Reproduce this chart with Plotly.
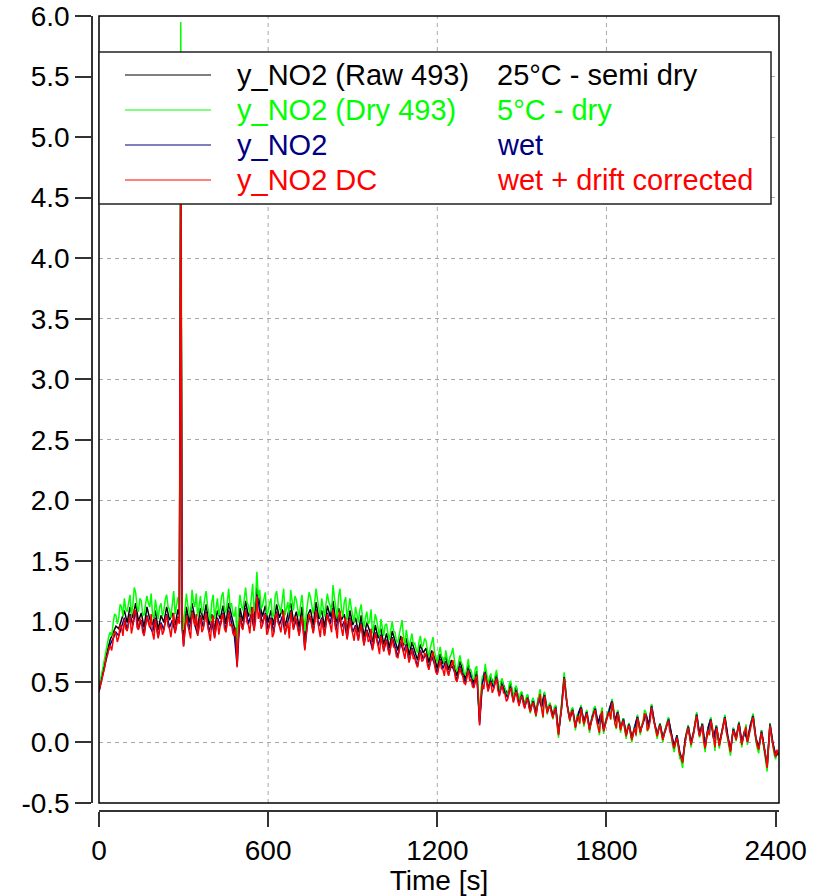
import plotly.graph_objects as go

# ---------------- data ----------------
time_5 = list(range(0, 2415, 5))     # red / green sampling
# black / blue sampling (10 s, with the two samples around the spike)
time_kb = list(range(0, 290, 10)) + [285, 290, 295] + list(range(300, 2420, 10))

y_red = [
    0.42, 0.47, 0.52, 0.59, 0.62, 0.70, 0.72, 0.78, 0.80, 0.76, 0.85, 0.92, 0.90, 0.83, 0.87, 0.97, 0.95, 0.88, 1.02, 0.94,
    0.92, 0.99, 1.05, 0.90, 0.96, 1.10, 1.08, 0.95, 0.93, 1.02, 1.00, 0.91, 0.88, 0.97, 1.04, 0.99, 0.95, 1.06, 0.90, 0.85,
    1.02, 0.93, 0.86, 0.95, 0.98, 0.89, 0.92, 1.01, 1.05, 0.96, 0.94, 0.87, 1.00, 1.07, 0.90, 0.97, 1.03, 0.98, 4.95, 0.96,
    0.79, 0.93, 1.05, 0.97, 0.92, 0.86, 1.08, 1.00, 0.96, 1.06, 0.88, 0.95, 1.04, 0.91, 0.94, 1.02, 1.07, 0.97, 0.90, 0.84,
    0.99, 1.05, 0.86, 0.93, 1.02, 0.89, 0.95, 1.04, 1.06, 0.94, 0.91, 0.99, 1.08, 0.96, 0.98, 0.90, 0.88, 0.95, 0.62, 0.92,
    1.04, 0.96, 0.93, 1.01, 1.10, 0.99, 0.97, 0.90, 1.05, 1.12, 0.92, 1.00, 1.21, 1.02, 1.08, 0.94, 0.97, 1.03, 1.06, 0.89,
    0.92, 0.98, 1.02, 0.87, 0.90, 1.04, 1.07, 0.99, 0.96, 0.91, 1.03, 1.09, 0.89, 0.95, 0.99, 0.86, 1.08, 1.00, 0.93, 1.04,
    1.01, 0.94, 0.88, 0.97, 1.05, 0.92, 0.76, 0.90, 0.98, 1.06, 1.03, 0.95, 0.90, 0.99, 1.09, 1.01, 0.95, 0.87, 1.02, 0.96,
    0.88, 0.97, 1.06, 1.00, 0.97, 0.91, 1.10, 1.03, 0.92, 0.86, 1.04, 1.09, 0.94, 0.88, 0.99, 1.03, 0.85, 0.93, 1.02, 0.95,
    0.90, 0.84, 0.96, 0.89, 0.84, 0.93, 0.98, 0.87, 0.80, 0.88, 0.92, 0.83, 0.85, 0.94, 0.76, 0.82, 0.90, 0.86, 0.79, 0.73,
    0.88, 0.81, 0.75, 0.83, 0.84, 0.77, 0.72, 0.80, 0.86, 0.79, 0.78, 0.71, 0.70, 0.76, 0.82, 0.87, 0.74, 0.69, 0.80, 0.73,
    0.66, 0.72, 0.77, 0.69, 0.70, 0.65, 0.62, 0.71, 0.75, 0.67, 0.68, 0.74, 0.72, 0.64, 0.60, 0.66, 0.70, 0.75, 0.64, 0.58,
    0.56, 0.63, 0.68, 0.61, 0.60, 0.55, 0.66, 0.59, 0.55, 0.61, 0.63, 0.68, 0.58, 0.52, 0.50, 0.56, 0.62, 0.57, 0.55, 0.49,
    0.48, 0.54, 0.60, 0.51, 0.52, 0.46, 0.45, 0.53, 0.55, 0.40, 0.14, 0.38, 0.48, 0.44, 0.57, 0.50, 0.42, 0.47, 0.50, 0.41,
    0.44, 0.49, 0.53, 0.43, 0.38, 0.45, 0.47, 0.41, 0.40, 0.34, 0.36, 0.43, 0.45, 0.39, 0.33, 0.40, 0.42, 0.35, 0.30, 0.37,
    0.38, 0.32, 0.28, 0.34, 0.36, 0.29, 0.25, 0.31, 0.33, 0.27, 0.22, 0.30, 0.35, 0.40, 0.28, 0.21, 0.38, 0.31, 0.24, 0.29,
    0.30, 0.24, 0.20, 0.27, 0.28, 0.15, 0.06, 0.19, 0.26, 0.38, 0.53, 0.41, 0.30, 0.24, 0.18, 0.25, 0.26, 0.19, 0.12, 0.20,
    0.22, 0.16, 0.28, 0.21, 0.15, 0.19, 0.24, 0.17, 0.10, 0.16, 0.20, 0.25, 0.27, 0.18, 0.14, 0.08, 0.22, 0.26, 0.09, 0.15,
    0.18, 0.22, 0.25, 0.19, 0.33, 0.27, 0.16, 0.12, 0.24, 0.20, 0.10, 0.15, 0.18, 0.11, 0.05, 0.12, 0.14, 0.08, 0.02, 0.07,
    0.12, 0.06, 0.20, 0.15, 0.08, 0.13, 0.16, 0.24, 0.22, 0.10, 0.12, 0.18, 0.29, 0.21, 0.15, 0.09, 0.05, 0.11, 0.14, 0.08,
    0.02, 0.07, 0.10, 0.15, 0.18, 0.09, 0.06, -0.01, -0.05, 0.00, 0.04, -0.03, -0.10, -0.12, -0.17, -0.06, 0.02, 0.08, 0.12, 0.04,
    -0.02, 0.03, 0.08, 0.16, 0.22, 0.11, 0.05, 0.09, 0.14, 0.01, -0.05, 0.04, 0.10, 0.06, 0.18, 0.13, 0.02, -0.04, 0.12, 0.07,
    -0.03, 0.02, 0.08, 0.14, 0.20, 0.09, 0.04, -0.02, -0.08, 0.03, 0.10, 0.06, 0.02, 0.09, 0.15, 0.05, -0.02, 0.04, 0.08, 0.13,
    0.00, 0.06, 0.12, 0.17, 0.21, 0.10, 0.02, -0.03, -0.06, 0.03, 0.08, 0.01, -0.05, -0.11, -0.21, -0.02, 0.14, 0.05, -0.02, -0.08,
    -0.12, -0.06, -0.10,
]

y_green = [
    0.45, 0.51, 0.57, 0.65, 0.69, 0.78, 0.81, 0.88, 0.91, 0.88, 0.98, 1.06, 1.05, 0.98, 1.03, 1.14, 1.12, 1.04, 1.19, 1.10,
    1.08, 1.17, 1.22, 1.05, 1.13, 1.28, 1.24, 1.12, 1.08, 1.19, 1.17, 1.06, 1.05, 1.14, 1.21, 1.15, 1.12, 1.23, 1.05, 1.02,
    1.18, 1.10, 1.02, 1.12, 1.15, 1.04, 1.09, 1.18, 1.22, 1.12, 1.10, 1.03, 1.17, 1.25, 1.06, 1.14, 1.20, 1.15, 5.95, 1.12,
    0.93, 1.10, 1.23, 1.13, 1.08, 1.02, 1.26, 1.16, 1.12, 1.23, 1.04, 1.12, 1.21, 1.07, 1.10, 1.19, 1.25, 1.13, 1.06, 1.00,
    1.16, 1.22, 1.02, 1.10, 1.19, 1.05, 1.11, 1.21, 1.24, 1.10, 1.07, 1.16, 1.27, 1.12, 1.15, 1.06, 1.04, 1.12, 0.80, 1.09,
    1.22, 1.13, 1.09, 1.18, 1.28, 1.16, 1.13, 1.06, 1.22, 1.31, 1.08, 1.17, 1.41, 1.19, 1.26, 1.10, 1.13, 1.20, 1.24, 1.05,
    1.08, 1.15, 1.19, 1.03, 1.06, 1.21, 1.25, 1.15, 1.12, 1.07, 1.20, 1.27, 1.05, 1.11, 1.16, 1.02, 1.26, 1.17, 1.09, 1.21,
    1.18, 1.10, 1.04, 1.14, 1.22, 1.08, 0.92, 1.06, 1.15, 1.24, 1.20, 1.11, 1.06, 1.16, 1.27, 1.18, 1.11, 1.03, 1.19, 1.12,
    1.04, 1.14, 1.23, 1.16, 1.13, 1.07, 1.30, 1.20, 1.08, 1.02, 1.21, 1.27, 1.10, 1.04, 1.16, 1.20, 1.01, 1.09, 1.19, 1.11,
    1.06, 0.99, 1.12, 1.04, 0.99, 1.09, 1.14, 1.02, 0.95, 1.03, 1.08, 0.98, 1.00, 1.10, 0.90, 0.97, 1.06, 1.01, 0.93, 0.87,
    1.02, 0.94, 0.88, 0.97, 0.98, 0.90, 0.85, 0.93, 1.00, 0.92, 0.91, 0.84, 0.83, 0.89, 0.96, 1.01, 0.87, 0.81, 0.93, 0.86,
    0.78, 0.84, 0.90, 0.81, 0.82, 0.77, 0.74, 0.83, 0.88, 0.79, 0.80, 0.86, 0.84, 0.76, 0.71, 0.78, 0.82, 0.87, 0.75, 0.69,
    0.66, 0.73, 0.79, 0.71, 0.70, 0.64, 0.76, 0.69, 0.64, 0.71, 0.73, 0.78, 0.67, 0.61, 0.59, 0.65, 0.72, 0.66, 0.64, 0.57,
    0.56, 0.62, 0.69, 0.58, 0.60, 0.53, 0.52, 0.61, 0.63, 0.46, 0.18, 0.43, 0.55, 0.50, 0.65, 0.57, 0.48, 0.54, 0.57, 0.47,
    0.50, 0.55, 0.60, 0.48, 0.42, 0.50, 0.53, 0.46, 0.45, 0.38, 0.40, 0.48, 0.51, 0.43, 0.37, 0.45, 0.47, 0.39, 0.33, 0.41,
    0.42, 0.35, 0.29, 0.37, 0.40, 0.30, 0.24, 0.34, 0.37, 0.28, 0.21, 0.33, 0.39, 0.44, 0.30, 0.20, 0.42, 0.34, 0.23, 0.31,
    0.33, 0.25, 0.19, 0.29, 0.31, 0.14, 0.04, 0.20, 0.29, 0.42, 0.58, 0.44, 0.33, 0.25, 0.17, 0.27, 0.29, 0.19, 0.10, 0.22,
    0.24, 0.15, 0.31, 0.22, 0.13, 0.20, 0.27, 0.17, 0.08, 0.17, 0.22, 0.28, 0.30, 0.18, 0.13, 0.06, 0.24, 0.29, 0.07, 0.16,
    0.20, 0.24, 0.28, 0.19, 0.36, 0.29, 0.15, 0.11, 0.27, 0.21, 0.08, 0.16, 0.20, 0.10, 0.03, 0.13, 0.16, 0.07, 0.00, 0.08,
    0.14, 0.05, 0.23, 0.16, 0.06, 0.14, 0.18, 0.27, 0.25, 0.09, 0.12, 0.20, 0.32, 0.22, 0.15, 0.07, 0.03, 0.12, 0.16, 0.07,
    0.00, 0.08, 0.12, 0.17, 0.21, 0.09, 0.05, -0.03, -0.08, -0.01, 0.05, -0.05, -0.13, -0.15, -0.21, -0.08, 0.02, 0.10, 0.14, 0.04,
    -0.04, 0.03, 0.10, 0.18, 0.25, 0.12, 0.04, 0.10, 0.16, 0.00, -0.08, 0.04, 0.12, 0.06, 0.21, 0.14, 0.00, -0.07, 0.14, 0.07,
    -0.05, 0.02, 0.10, 0.16, 0.23, 0.09, 0.03, -0.04, -0.11, 0.02, 0.12, 0.06, 0.01, 0.10, 0.17, 0.05, -0.04, 0.04, 0.10, 0.15,
    -0.02, 0.06, 0.14, 0.19, 0.24, 0.10, 0.01, -0.05, -0.09, 0.02, 0.10, 0.00, -0.07, -0.14, -0.24, -0.03, 0.16, 0.05, -0.04, -0.10,
    -0.14, -0.08, -0.11,
]

y_black = [
    0.43, 0.55, 0.66, 0.76, 0.85, 0.91, 0.96, 0.94, 1.02, 1.09,
    0.99, 1.12, 1.03, 1.15, 1.00, 1.07, 0.95, 1.12, 1.02, 0.97,
    1.09, 0.93, 1.05, 0.99, 1.12, 1.01, 1.07, 0.97, 1.10, 1.05, 4.90, 1.00,
    0.85, 1.12, 0.99, 1.15, 1.03, 0.95, 1.11, 1.01, 1.14, 0.97,
    1.06, 0.93, 1.09, 1.02, 1.13, 0.98, 1.15, 1.05, 0.95, 0.70,
    1.11, 1.00, 1.17, 1.04, 1.12, 0.99, 1.28, 1.15, 1.04, 1.13,
    0.99, 1.09, 0.97, 1.14, 1.03, 1.10, 0.96, 1.06, 1.15, 1.00,
    1.08, 0.95, 1.12, 0.83, 1.05, 1.10, 0.97, 1.16, 1.02, 1.09,
    0.95, 1.13, 1.04, 1.17, 0.99, 1.11, 1.01, 1.06, 0.92, 1.09,
    0.97, 1.03, 0.91, 1.05, 0.87, 0.99, 0.92, 0.83, 0.97, 0.86,
    0.94, 0.81, 0.90, 0.78, 0.92, 0.84, 0.76, 0.88, 0.80, 0.86,
    0.72, 0.83, 0.76, 0.68, 0.81, 0.74, 0.78, 0.66, 0.76, 0.70,
    0.61, 0.73, 0.65, 0.71, 0.60, 0.68, 0.63, 0.55, 0.67, 0.60,
    0.52, 0.64, 0.56, 0.49, 0.59, 0.18, 0.52, 0.61, 0.46, 0.54,
    0.48, 0.57, 0.42, 0.51, 0.44, 0.40, 0.49, 0.37, 0.46, 0.34,
    0.41, 0.31, 0.39, 0.28, 0.36, 0.25, 0.38, 0.31, 0.41, 0.27,
    0.32, 0.22, 0.30, 0.08, 0.28, 0.55, 0.32, 0.20, 0.28, 0.14,
    0.24, 0.30, 0.17, 0.26, 0.12, 0.22, 0.29, 0.16, 0.24, 0.11,
    0.20, 0.27, 0.35, 0.18, 0.26, 0.12, 0.20, 0.07, 0.16, 0.04,
    0.14, 0.22, 0.10, 0.18, 0.24, 0.14, 0.31, 0.17, 0.07, 0.16,
    0.04, 0.12, 0.20, 0.08, -0.03, 0.06, -0.08, -0.15, 0.04, 0.14,
    0.00, 0.10, 0.24, 0.07, 0.16, -0.03, 0.12, 0.20, 0.04, 0.14,
    -0.01, 0.10, 0.22, 0.06, -0.06, 0.12, 0.04, 0.17, 0.00, 0.10,
    0.02, 0.14, 0.23, 0.04, -0.04, 0.10, -0.03, -0.19, 0.16, 0.00,
    -0.10, -0.08,
]

y_blue = [
    0.42, 0.53, 0.63, 0.73, 0.81, 0.86, 0.91, 0.88, 0.96, 1.03,
    0.93, 1.06, 0.97, 1.09, 0.94, 1.01, 0.89, 1.05, 0.96, 0.91,
    1.03, 0.87, 0.99, 0.93, 1.06, 0.95, 1.01, 0.91, 1.04, 0.99, 4.85, 0.94,
    0.80, 1.06, 0.93, 1.09, 0.97, 0.89, 1.05, 0.95, 1.08, 0.91,
    1.00, 0.87, 1.03, 0.96, 1.07, 0.92, 1.09, 0.99, 0.89, 0.63,
    1.05, 0.94, 1.11, 0.98, 1.06, 0.93, 1.22, 1.09, 0.98, 1.07,
    0.93, 1.03, 0.91, 1.08, 0.97, 1.04, 0.90, 1.00, 1.09, 0.94,
    1.02, 0.89, 1.06, 0.77, 0.99, 1.04, 0.91, 1.10, 0.96, 1.03,
    0.89, 1.07, 0.98, 1.11, 0.93, 1.05, 0.95, 1.00, 0.86, 1.03,
    0.91, 0.97, 0.85, 0.99, 0.81, 0.93, 0.86, 0.77, 0.91, 0.80,
    0.89, 0.76, 0.85, 0.73, 0.87, 0.79, 0.71, 0.83, 0.75, 0.81,
    0.67, 0.78, 0.71, 0.63, 0.76, 0.69, 0.73, 0.61, 0.71, 0.65,
    0.57, 0.69, 0.61, 0.67, 0.56, 0.64, 0.59, 0.51, 0.63, 0.56,
    0.49, 0.61, 0.53, 0.46, 0.56, 0.15, 0.49, 0.58, 0.43, 0.51,
    0.45, 0.54, 0.39, 0.48, 0.41, 0.37, 0.46, 0.34, 0.43, 0.31,
    0.39, 0.29, 0.37, 0.26, 0.34, 0.23, 0.36, 0.29, 0.39, 0.25,
    0.31, 0.21, 0.29, 0.07, 0.27, 0.54, 0.31, 0.19, 0.27, 0.13,
    0.23, 0.29, 0.16, 0.25, 0.11, 0.21, 0.28, 0.15, 0.23, 0.10,
    0.19, 0.26, 0.34, 0.17, 0.25, 0.11, 0.19, 0.06, 0.15, 0.03,
    0.13, 0.21, 0.09, 0.17, 0.23, 0.13, 0.30, 0.16, 0.06, 0.15,
    0.03, 0.11, 0.19, 0.07, -0.04, 0.05, -0.09, -0.16, 0.03, 0.13,
    -0.01, 0.09, 0.23, 0.06, 0.15, -0.04, 0.11, 0.19, 0.03, 0.13,
    -0.02, 0.09, 0.21, 0.05, -0.07, 0.11, 0.03, 0.16, -0.01, 0.09,
    0.01, 0.13, 0.22, 0.03, -0.05, 0.09, -0.04, -0.20, 0.15, -0.01,
    -0.11, -0.09,
]

series_names = ["y_NO2 (Raw 493)", "y_NO2 (Dry 493)", "y_NO2", "y_NO2 DC"]
series_notes = ["25°C - semi dry", "5°C - dry", "wet", "wet + drift corrected"]
series_colors = ["#000000", "#00ff00", "#000080", "#ff0000"]
series_times = [time_kb, time_5, time_kb, time_5]
series_values = [y_black, y_green, y_blue, y_red]

x_ticks = [0, 600, 1200, 1800, 2400]
x_grid = [600, 1200, 1800]
y_ticks = [-0.5, 0.0, 0.5, 1.0, 1.5, 2.0, 2.5, 3.0, 3.5, 4.0, 4.5, 5.0, 5.5, 6.0]
y_tick_text = ["%.1f" % v for v in y_ticks]

# ---------------- figure ----------------
FONT = "Liberation Sans, Arial, sans-serif"
FS = 28
FS_LEG = 29
W, H = 818, 896
ML, MR, MT, MB = 92, 39, 16, 85
pw, ph = W - ML - MR, H - MT - MB

fig = go.Figure()
for name, col, tt, vals in zip(series_names, series_colors, series_times, series_values):
    fig.add_trace(go.Scatter(x=tt, y=vals, mode="lines", name=name,
                             line=dict(color=col, width=1.5), showlegend=False,
                             hoverinfo="skip"))

fig.update_layout(
    width=W, height=H,
    margin=dict(l=ML, r=MR, t=MT, b=MB, pad=0, autoexpand=False),
    paper_bgcolor="white", plot_bgcolor="white",
    font=dict(family=FONT, size=FS, color="black"),
    xaxis=dict(
        domain=[7 / pw, 1], anchor="free", position=0, automargin=False,
        range=[0, 2412], tickvals=x_ticks, ticktext=[str(v) for v in x_ticks],
        ticks="outside", ticklen=15, tickwidth=1.5, tickcolor="#333333",
        showline=True, linecolor="#333333", linewidth=1.5,
        showgrid=False, zeroline=False,
        title=dict(text="Time [s]", font=dict(size=FS)),
        tickfont=dict(size=FS),
    ),
    yaxis=dict(
        domain=[8 / ph, 1], anchor="free", position=0, automargin=False,
        range=[-0.5, 6.0], tickvals=y_ticks, ticktext=y_tick_text,
        ticks="outside", ticklen=16, tickwidth=1.5, tickcolor="#333333",
        showline=True, linecolor="#333333", linewidth=1.5,
        showgrid=True, gridcolor="#a8a8a8", gridwidth=1, griddash="4px,4px",
        zeroline=False, tickfont=dict(size=FS),
    ),
)

shapes = []
for gx in x_grid:
    shapes.append(dict(type="line", xref="x", yref="y domain", x0=gx, x1=gx, y0=0, y1=1,
                       line=dict(color="#a8a8a8", width=1, dash="4px,4px"), layer="below"))
shapes.append(dict(type="rect", xref="x domain", yref="y domain", x0=0, x1=1, y0=0, y1=1,
                   line=dict(color="black", width=1.5), layer="above"))
dx = lambda px: (px - 99) / 680.0
dy = lambda py: (803 - py) / 787.0
shapes.append(dict(type="rect", xref="x domain", yref="y domain",
                   x0=dx(99), x1=dx(771), y0=dy(204), y1=dy(52),
                   fillcolor="white", line=dict(color="#222222", width=1.5), layer="above"))
row_y = [75, 110, 145, 180]
for ry, col in zip(row_y, series_colors):
    shapes.append(dict(type="line", xref="x domain", yref="y domain",
                       x0=dx(125), x1=dx(211), y0=dy(ry), y1=dy(ry),
                       line=dict(color=col, width=1), layer="above"))
fig.update_layout(shapes=shapes)

annotations = []
for ry, col, nm, note in zip(row_y, series_colors, series_names, series_notes):
    annotations.append(dict(xref="x domain", yref="y domain", x=dx(235), y=dy(ry),
                            text=nm, showarrow=False, xanchor="left", yanchor="middle",
                            font=dict(color=col, size=FS_LEG, family=FONT)))
    annotations.append(dict(xref="x domain", yref="y domain", x=dx(495), y=dy(ry),
                            text=note, showarrow=False, xanchor="left", yanchor="middle",
                            font=dict(color=col, size=FS_LEG, family=FONT)))
fig.update_layout(annotations=annotations)

fig.write_html("out.html", config={"displayModeBar": False},
               post_script="document.body.style.margin='0';document.body.style.overflow='hidden';")
